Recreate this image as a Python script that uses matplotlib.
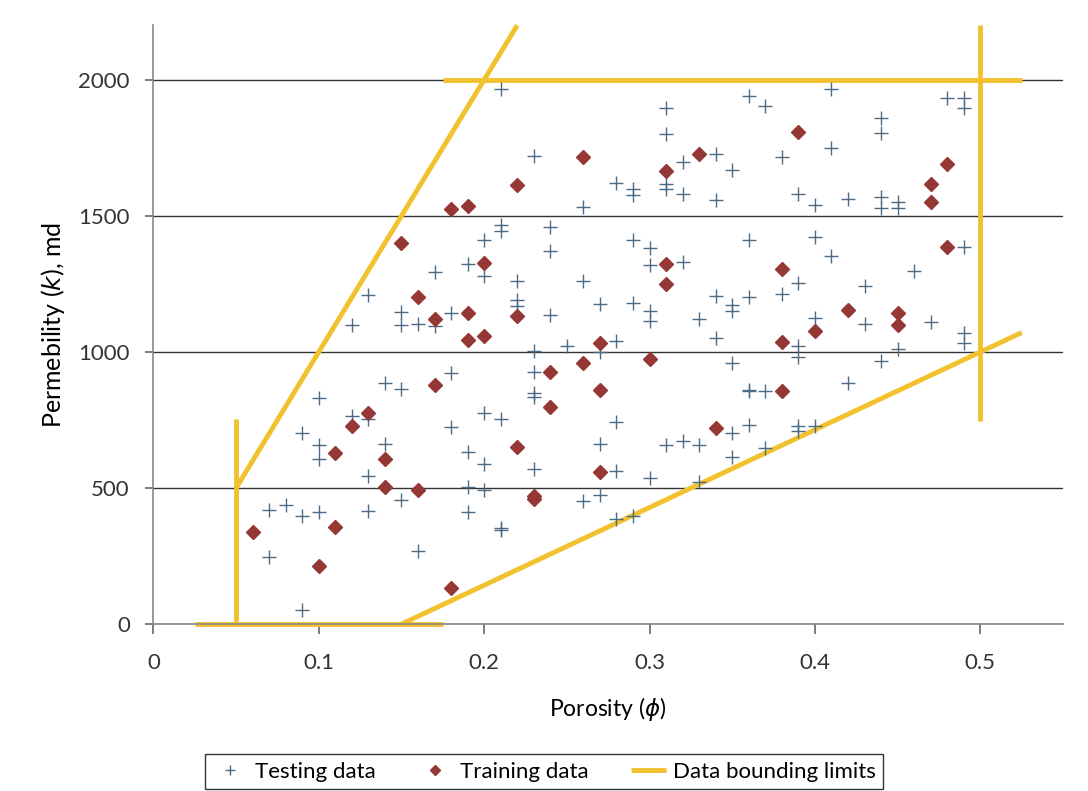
import matplotlib.pyplot as plt

# testing data (porosity, permeability in md)
test_phi = [0.21, 0.31, 0.31, 0.36, 0.23, 0.34, 0.32, 0.35, 0.28, 0.29, 0.29, 0.31, 0.31,
            0.32, 0.34, 0.26, 0.21, 0.21, 0.24, 0.20, 0.24, 0.29, 0.30, 0.36, 0.19, 0.20,
            0.30, 0.32, 0.22, 0.26, 0.22, 0.22, 0.18, 0.24, 0.27, 0.29, 0.30, 0.30, 0.33,
            0.34, 0.35, 0.35, 0.36,
            0.41, 0.37, 0.48, 0.49, 0.49, 0.44, 0.44, 0.41, 0.38, 0.39, 0.40, 0.42, 0.44,
            0.44, 0.45, 0.45, 0.40, 0.41, 0.46, 0.49, 0.39, 0.38, 0.43, 0.40, 0.43, 0.47,
            0.49, 0.49, 0.39, 0.39, 0.45, 0.44, 0.42, 0.37, 0.36, 0.39, 0.39, 0.40, 0.37,
            0.36,
            0.17, 0.13, 0.15, 0.15, 0.16, 0.17, 0.12,
            0.34, 0.28, 0.23, 0.25, 0.27, 0.35, 0.18, 0.23, 0.23, 0.23, 0.20, 0.21, 0.28,
            0.18, 0.35, 0.36, 0.27, 0.31, 0.32, 0.33, 0.35, 0.19, 0.20, 0.23, 0.28, 0.30,
            0.33, 0.19, 0.20, 0.26, 0.27, 0.19, 0.21, 0.21, 0.28, 0.29,
            0.14, 0.15, 0.10, 0.12, 0.13, 0.09, 0.10, 0.10, 0.14, 0.13, 0.15, 0.07, 0.08,
            0.09, 0.10, 0.13, 0.07, 0.16, 0.09]
test_k = [1965, 1898, 1802, 1941, 1721, 1727, 1696, 1668, 1622, 1598, 1576, 1616, 1598,
          1579, 1557, 1533, 1465, 1444, 1459, 1413, 1371, 1413, 1383, 1413, 1324, 1278,
          1321, 1330, 1260, 1260, 1191, 1170, 1143, 1136, 1176, 1180, 1149, 1112, 1121,
          1207, 1174, 1149, 1201,
          1966, 1904, 1932, 1932, 1895, 1858, 1803, 1748, 1717, 1582, 1539, 1563, 1570,
          1530, 1551, 1530, 1422, 1354, 1299, 1385, 1253, 1213, 1244, 1123, 1102, 1109,
          1069, 1032, 1022, 980, 1010, 967, 887, 857, 857, 727, 709, 727, 648,
          731,
          1293, 1209, 1146, 1100, 1102, 1095, 1099,
          1051, 1039, 1002, 1020, 1000, 961, 922, 848, 836, 928, 777, 755, 744,
          725, 701, 860, 660, 657, 672, 657, 615, 633, 590, 571, 562, 535,
          522, 504, 494, 451, 473, 412, 353, 344, 387, 399,
          887, 863, 832, 764, 752, 703, 657, 608, 663, 543, 457, 420, 436,
          399, 412, 417, 248, 267, 52]

# training data
train_phi = [0.15, 0.16, 0.17, 0.18, 0.19, 0.26, 0.33, 0.31, 0.22, 0.20, 0.31, 0.31,
             0.22, 0.19, 0.39, 0.48, 0.47, 0.47, 0.48, 0.38, 0.42, 0.45, 0.45, 0.40,
             0.38, 0.38, 0.19, 0.20, 0.27, 0.30, 0.26, 0.24, 0.27, 0.24, 0.34, 0.22,
             0.27, 0.23, 0.23, 0.18, 0.17, 0.13, 0.12, 0.11, 0.14, 0.14, 0.16, 0.11,
             0.06, 0.10]
train_k = [1400, 1200, 1121, 1526, 1537, 1715, 1727, 1666, 1612, 1327, 1324, 1248,
           1133, 1143, 1809, 1690, 1616, 1551, 1385, 1305, 1154, 1143, 1099, 1076,
           1035, 857, 1045, 1057, 1032, 973, 959, 928, 860, 799, 721, 651,
           559, 470, 460, 132, 879, 777, 728, 627, 605, 503, 494, 357,
           338, 214]

# bounding limit segments (x pairs, y pairs)
bound_x = [(0.05, 0.22), (0.175, 0.525), (0.5, 0.5), (0.15, 0.525), (0.05, 0.05), (0.025, 0.175)]
bound_y = [(500, 2200), (2000, 2000), (745, 2200), (0, 1071), (0, 752), (0, 0)]

plt.rcParams['font.family'] = ['Lato', 'DejaVu Sans']

fig = plt.figure(figsize=(10.88, 7.91), dpi=100)
ax = fig.add_axes([0.141, 0.211, 0.836, 0.757])

ax.set_xlim(0, 0.55)
ax.set_ylim(0, 2200)
ax.set_xticks([0, 0.1, 0.2, 0.3, 0.4, 0.5])
ax.set_xticklabels(['0', '0.1', '0.2', '0.3', '0.4', '0.5'])
ax.set_yticks([0, 500, 1000, 1500, 2000])
ax.yaxis.grid(True, color='#333333', linewidth=1.0)
ax.set_axisbelow(True)

for s in ['top', 'right']:
    ax.spines[s].set_visible(False)
for s in ['left', 'bottom']:
    ax.spines[s].set_color('#888888')
    ax.spines[s].set_linewidth(1.2)
ax.tick_params(axis='both', colors='#666666', labelcolor='#333333', labelsize=16, width=1.2)
ax.tick_params(axis='x', length=7, pad=14)
ax.tick_params(axis='y', length=6, pad=11)

ax.plot(test_phi, test_k, linestyle='none', marker='+', markersize=10, markeredgewidth=1.0,
        color='#4a6a85', label='Testing data', zorder=3)
ax.plot(train_phi, train_k, linestyle='none', marker='D', markersize=7,
        color='#953735', label='Training data', zorder=3)
for i in range(len(bound_x)):
    ax.plot(bound_x[i], bound_y[i], color='#F2C12E', linewidth=3.5, solid_capstyle='butt',
            label='Data bounding limits' if i == 0 else None, zorder=2, clip_on=False)

ax.set_xlabel(r'Porosity ($\phi$)', fontsize=16.5, labelpad=16)
ax.set_ylabel(r'Permebility ($k$), md', fontsize=18, labelpad=8)

leg = fig.legend(loc='lower center', bbox_to_anchor=(0.5, -0.012), ncol=3, fontsize=16,
                 frameon=True, fancybox=False, edgecolor='black', handlelength=1.6,
                 handletextpad=0.3, columnspacing=1.9, borderpad=0.35, markerscale=0.7)
leg.get_frame().set_linewidth(1.0)

fig.savefig('out.png', dpi=100)
